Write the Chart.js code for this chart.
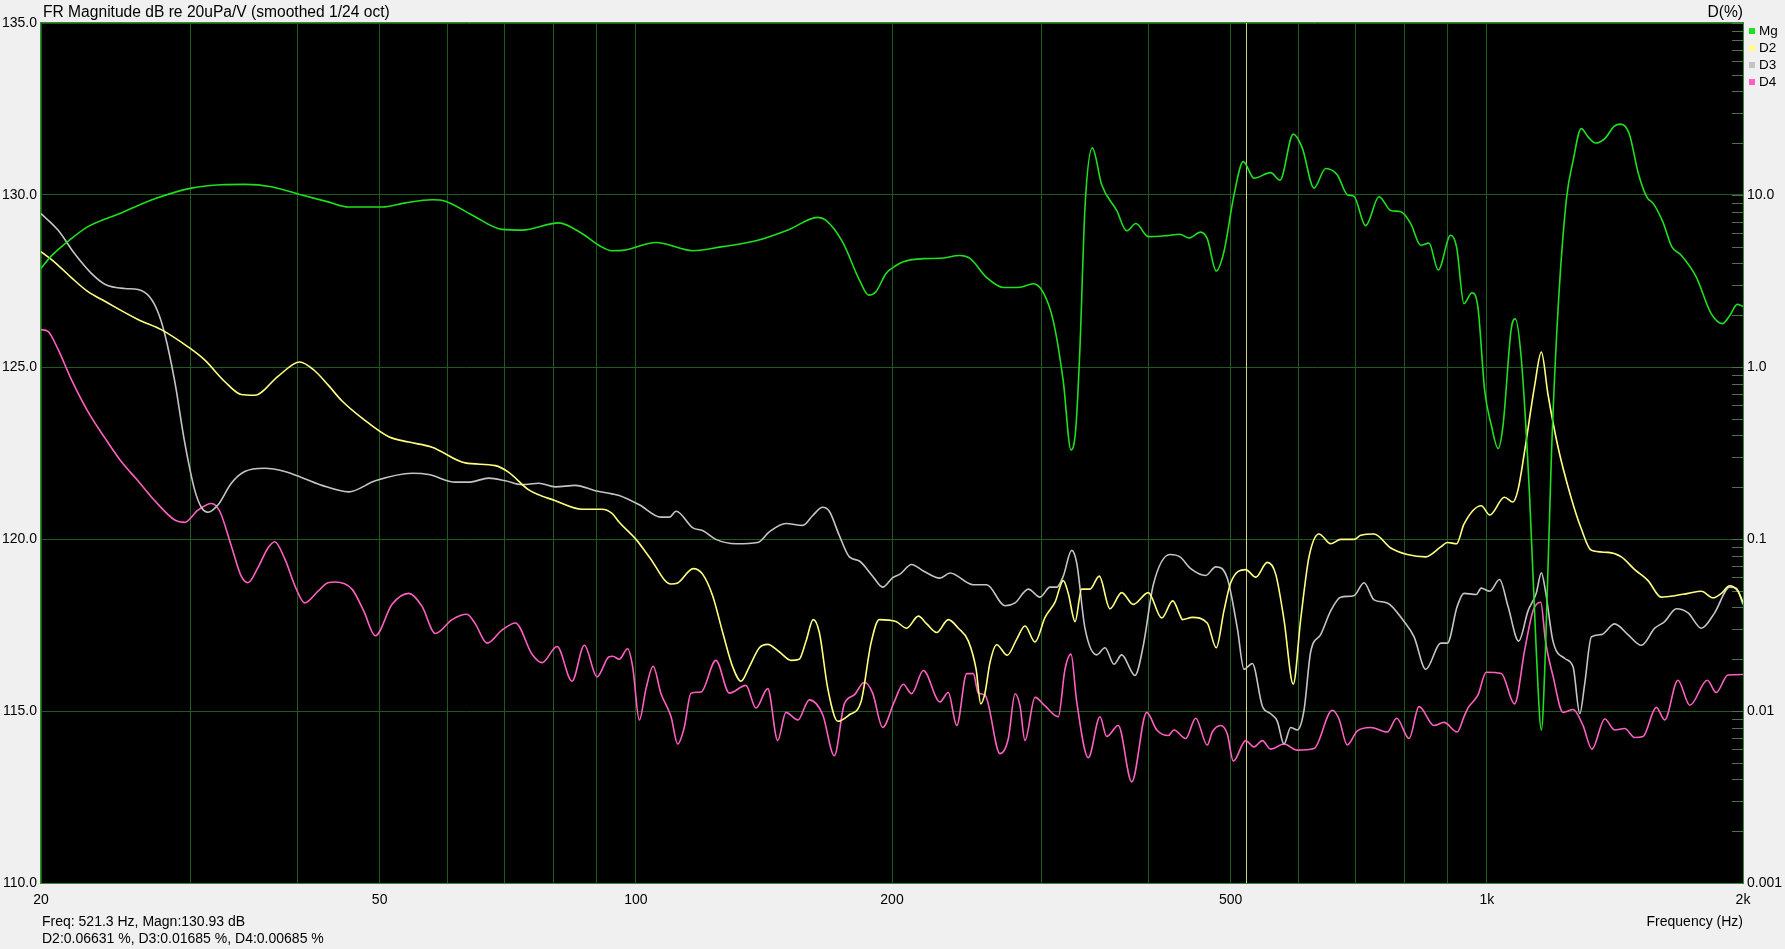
<!DOCTYPE html>
<html>
<head>
<meta charset="utf-8">
<title>FR Magnitude dB re 20uPa/V</title>
<script src="https://cdn.jsdelivr.net/npm/chart.js@4.4.1/dist/chart.umd.min.js"></script>
<style>
  html, body { margin: 0; padding: 0; background: #f0f0f0; }
  canvas { display: block; }
</style>
</head>
<body>
<canvas id="fr" width="1785" height="949"></canvas>
<script>
// Magnitude (dB)
const mgFreq = [20, 20.57, 21.71, 22.71, 24.85, 27.21, 30.04, 32.57, 34.70, 37.30,
  40.09, 43.48, 45.98, 50.32, 53.59, 57.62, 59.72, 64.19, 69.61, 73.49,
  81.16, 86.44, 90.43, 93.76, 96.50, 105.6, 116.7, 126.5, 138.4, 151.5,
  163.5, 167.2, 175.0, 183.1, 187.8, 191.5, 196.8, 202.2, 206.2, 217.7,
  227.7, 240.4, 247.0, 258.4, 270.3, 282.8, 293.1, 301.2, 309.4, 317.9,
  324.6, 328.8, 332.6, 337.1, 343.9, 352.7, 367.3, 377.4, 387.0, 400.1,
  420.5, 435.9, 446.7, 461.0, 469.3, 480.9, 491.0, 504.5, 517.3, 532.6,
  557.2, 571.4, 592.3, 606.9, 626.5, 646.6, 667.4, 685.5, 698.1, 720.5,
  747.0, 771.0, 792.2, 813.9, 836.2, 855.1, 876.8, 906.8, 921.6, 940.0,
  960.6, 976.4, 994.1, 1012, 1031, 1045, 1068, 1080, 1098, 1123,
  1143, 1159, 1172, 1191, 1212, 1240, 1263, 1291, 1315, 1342,
  1376, 1412, 1437, 1470, 1507, 1542, 1569, 1610, 1650, 1692,
  1762, 1835, 1892, 1930, 1969, 2000];
const mgDb = [127.87, 128.23, 128.73, 129.08, 129.48, 129.89, 130.20, 130.30, 130.31, 130.24,
  130.03, 129.80, 129.65, 129.65, 129.77, 129.86, 129.82, 129.42, 129.00, 128.98,
  129.19, 128.88, 128.54, 128.38, 128.39, 128.62, 128.38, 128.50, 128.67, 129.00,
  129.35, 129.27, 128.63, 127.53, 127.09, 127.19, 127.72, 127.95, 128.06, 128.15,
  128.16, 128.24, 128.16, 127.60, 127.31, 127.32, 127.42, 127.16, 126.34, 124.58,
  122.59, 123.19, 125.58, 129.61, 131.37, 130.30, 129.55, 128.96, 129.17, 128.79,
  128.82, 128.86, 128.75, 128.92, 128.73, 127.79, 128.35, 129.99, 130.97, 130.49,
  130.65, 130.43, 131.77, 131.37, 130.20, 130.77, 130.58, 130.01, 129.96, 129.11,
  129.95, 129.55, 129.51, 129.17, 128.54, 128.60, 127.82, 128.83, 128.48, 126.84,
  127.16, 126.72, 124.33, 123.32, 122.63, 123.32, 126.09, 126.40, 125.21, 121.18,
  116.78, 114.45, 116.78, 122.44, 126.59, 129.86, 131.00, 131.93, 131.69, 131.51,
  131.64, 132.00, 132.06, 131.78, 130.62, 129.94, 129.75, 129.22, 128.49, 128.25,
  127.62, 126.55, 126.26, 126.50, 126.82, 126.76];

// 2nd harmonic distortion (%)
const d2Freq = [20, 20.76, 21.71, 22.71, 23.77, 26.00, 27.69, 29.77, 31.14, 32.87,
  34.38, 35.65, 37.98, 40.27, 41.94, 43.48, 45.17, 47.68, 51.25, 54.10,
  57.62, 63.04, 68.39, 70.91, 74.85, 80.44, 86.44, 91.24, 93.76, 95.61,
  100.05, 103.7, 110.0, 112.0, 116.8, 119.8, 123.1, 126.5, 130.0, 132.9,
  135.9, 139.7, 142.9, 147.4, 152.2, 155.6, 158.5, 161.6, 164.3, 168.1,
  172.7, 178.2, 183.9, 188.95, 193.2, 202.2, 208.1, 214.8, 219.7, 225.7,
  232.9, 239.3, 245.9, 251.1, 254.3, 257.2, 260.7, 265.5, 273.2, 280.3,
  286.6, 294.5, 302.6, 310.9, 317.9, 322.3, 328.2, 334.1, 341.7, 350.4,
  360.7, 372.3, 384.2, 400.1, 414.9, 427.5, 435.9, 438.7, 450.8, 469.3,
  480.9, 491.0, 500.1, 520.8, 535.1, 552.1, 564.8, 577.6, 592.3, 604.3,
  618.1, 635.0, 655.4, 673.4, 698.1, 710.9, 736.9, 771.0, 806.5, 847.7,
  882.8, 898.7, 921.6, 940.0, 984.9, 1008, 1049, 1073, 1088, 1108,
  1138, 1159, 1180, 1212, 1257, 1291, 1327, 1388, 1439, 1492,
  1547, 1603, 1663, 1724, 1787, 1844, 1886, 1929, 1973, 2000];
const d2Pct = [4.68, 4.06, 3.31, 2.74, 2.41, 1.89, 1.65, 1.31, 1.10, 0.824,
  0.692, 0.685, 0.883, 1.07, 0.951, 0.787, 0.634, 0.504, 0.393, 0.366,
  0.342, 0.277, 0.267, 0.244, 0.193, 0.167, 0.149, 0.149, 0.141, 0.125,
  0.0995, 0.0787, 0.0547, 0.0555, 0.0673, 0.0625, 0.0468, 0.0286, 0.0180, 0.0149,
  0.0180, 0.0233, 0.0244, 0.0221, 0.0197, 0.0200, 0.0255, 0.0340, 0.0286, 0.0135,
  0.00871, 0.00951, 0.0113, 0.0248, 0.0340, 0.0331, 0.0303, 0.0356, 0.0321, 0.0286,
  0.0340, 0.0303, 0.0255, 0.0175, 0.0110, 0.0127, 0.0191, 0.0243, 0.0211, 0.0262,
  0.0312, 0.0252, 0.0350, 0.0429, 0.0573, 0.0481, 0.0331, 0.0511, 0.0511, 0.0608,
  0.0393, 0.0488, 0.0417, 0.0488, 0.0347, 0.0437, 0.0361, 0.0340, 0.0350, 0.0325,
  0.0233, 0.0382, 0.0557, 0.0664, 0.0600, 0.0731, 0.0625, 0.0340, 0.0143, 0.0340,
  0.0787, 0.107, 0.0938, 0.0995, 0.0995, 0.105, 0.107, 0.0887, 0.0813, 0.0787,
  0.0899, 0.0955, 0.0938, 0.122, 0.156, 0.138, 0.175, 0.164, 0.193, 0.327,
  0.776, 1.22, 0.692, 0.345, 0.172, 0.115, 0.0859, 0.0836, 0.0787, 0.0664,
  0.0573, 0.0459, 0.0468, 0.0483, 0.0497, 0.0455, 0.0483, 0.0535, 0.0497, 0.0429];

// 3rd harmonic distortion (%)
const d3Freq = [20, 20.94, 21.91, 22.92, 23.77, 25.09, 26.00, 26.84, 27.45, 27.95,
  28.72, 29.50, 30.31, 30.86, 31.42, 32.29, 33.47, 34.70, 36.63, 38.68,
  40.82, 42.78, 45.98, 49.42, 54.59, 57.11, 61.36, 63.63, 67.18, 70.26,
  73.49, 76.90, 80.44, 84.91, 89.61, 93.76, 95.61, 100.95, 107.0, 109.5,
  111.5, 116.7, 119.8, 124.2, 131.1, 139.1, 143.5, 150.1, 157.1, 161.4,
  165.8, 168.8, 173.4, 178.2, 183.1, 189.8, 195.0, 200.4, 204.4, 210.9,
  217.7, 227.7, 234.0, 249.2, 258.4, 271.5, 279.0, 289.2, 298.5, 306.7,
  312.3, 317.9, 325.2, 329.7, 337.1, 348.0, 355.9, 364.7, 372.3, 386.0,
  394.8, 405.6, 424.3, 435.9, 448.8, 467.4, 480.2, 495.5, 509.1, 518.4,
  530.2, 544.7, 557.2, 567.3, 577.6, 588.2, 598.8, 609.8, 620.9, 637.9,
  655.4, 673.4, 698.1, 717.3, 736.9, 763.9, 799.4, 821.3, 847.7, 882.8,
  898.7, 923.0, 940.0, 971.7, 984.9, 1008, 1035, 1059, 1090, 1118,
  1143, 1159, 1172, 1196, 1235, 1263, 1286, 1303, 1327, 1363,
  1413, 1465, 1519, 1575, 1618, 1670, 1724, 1787, 1852, 1929,
  1964, 2000];
const d3Pct = [7.80, 6.25, 4.55, 3.50, 3.03, 2.86, 2.82, 2.55, 2.08, 1.56,
  0.824, 0.366, 0.193, 0.153, 0.143, 0.158, 0.211, 0.247, 0.258, 0.247,
  0.224, 0.205, 0.188, 0.218, 0.241, 0.237, 0.214, 0.214, 0.226, 0.218,
  0.207, 0.211, 0.201, 0.205, 0.191, 0.183, 0.179, 0.158, 0.134, 0.134,
  0.145, 0.116, 0.112, 0.0995, 0.0938, 0.0955, 0.110, 0.123, 0.120, 0.137,
  0.153, 0.145, 0.105, 0.0787, 0.0745, 0.0608, 0.0525, 0.0597, 0.0625, 0.0711,
  0.0652, 0.0592, 0.0634, 0.0542, 0.0542, 0.0409, 0.0425, 0.0511, 0.0459, 0.0525,
  0.0525, 0.0608, 0.0859, 0.0724, 0.0303, 0.0212, 0.0233, 0.0187, 0.0212, 0.0161,
  0.0241, 0.0542, 0.0813, 0.0787, 0.0673, 0.0614, 0.0689, 0.0592, 0.0303, 0.0175,
  0.0189, 0.0107, 0.00964, 0.00871, 0.00643, 0.00802, 0.00776, 0.0101, 0.0221, 0.0278,
  0.0382, 0.0459, 0.0468, 0.0557, 0.0443, 0.0425, 0.0331, 0.0270, 0.0175, 0.0248,
  0.0248, 0.0406, 0.0483, 0.0476, 0.0518, 0.0497, 0.0581, 0.0406, 0.0255, 0.0382,
  0.0483, 0.0637, 0.0497, 0.0255, 0.0202, 0.0180, 0.00964, 0.0143, 0.0270, 0.0278,
  0.0321, 0.0278, 0.0241, 0.0303, 0.0331, 0.0393, 0.0372, 0.0303, 0.0372, 0.0525,
  0.0518, 0.0417];

// 4th harmonic distortion (%)
const d4Freq = [20, 20.38, 20.94, 21.71, 22.71, 23.77, 24.85, 26.00, 27.21, 28.72,
  29.50, 30.58, 31.71, 32.44, 33.47, 34.38, 35.01, 35.97, 36.96, 37.64,
  38.68, 39.91, 40.82, 42.32, 43.48, 44.34, 46.39, 47.89, 49.42, 51.71,
  54.10, 56.08, 58.14, 60.82, 63.33, 64.77, 66.87, 69.61, 72.19, 75.52,
  77.59, 80.81, 84.15, 87.00, 90.03, 92.92, 93.93, 95.61, 97.81, 99.16,
  100.95, 102.8, 104.8, 107.0, 110.0, 112.0, 114.0, 116.1, 119.3, 124.2,
  128.8, 134.7, 138.4, 142.9, 146.8, 150.1, 155.0, 159.9, 165.8, 171.1,
  175.8, 180.6, 185.6, 189.8, 195.0, 201.2, 206.2, 210.9, 217.7, 227.7,
  232.9, 238.3, 244.8, 249.2, 252.6, 257.2, 267.9, 274.0, 279.0, 282.8,
  286.6, 294.5, 302.6, 313.6, 319.4, 324.6, 329.7, 340.2, 351.1, 357.5,
  368.9, 382.6, 398.4, 409.4, 422.4, 429.0, 442.8, 454.9, 469.3, 475.8,
  486.7, 495.5, 503.6, 520.8, 532.6, 544.7, 557.2, 577.6, 598.8, 626.5,
  658.3, 670.3, 685.5, 704.4, 730.4, 763.9, 783.7, 810.2, 832.4, 866.9,
  890.7, 923.0, 940.0, 950.1, 976.4, 998.3, 1040, 1078, 1108, 1133,
  1157, 1172, 1196, 1229, 1263, 1297, 1329, 1376, 1413, 1452,
  1492, 1526, 1582, 1618, 1677, 1732, 1816, 1860, 1920, 2000];
const d4Pct = [1.65, 1.61, 1.27, 0.847, 0.550, 0.387, 0.282, 0.218, 0.167, 0.129,
  0.125, 0.147, 0.161, 0.145, 0.0912, 0.0608, 0.0557, 0.0682, 0.0887, 0.0964,
  0.0766, 0.0511, 0.0425, 0.0497, 0.0557, 0.0562, 0.0511, 0.0382, 0.0274, 0.0417,
  0.0483, 0.0406, 0.0282, 0.0340, 0.0365, 0.0321, 0.0248, 0.0295, 0.0325, 0.0214,
  0.0191, 0.0237, 0.0149, 0.0241, 0.0158, 0.0206, 0.0208, 0.0200, 0.0230, 0.0180,
  0.00887, 0.0135, 0.0182, 0.0127, 0.00925, 0.00643, 0.00802, 0.0127, 0.0129, 0.0197,
  0.0127, 0.0141, 0.0104, 0.0135, 0.00673, 0.00982, 0.00887, 0.0116, 0.00951, 0.00550,
  0.0110, 0.0124, 0.0147, 0.0127, 0.00802, 0.0113, 0.0143, 0.0126, 0.0172, 0.0113,
  0.0128, 0.00824, 0.0165, 0.0165, 0.0127, 0.0124, 0.00565, 0.00692, 0.0126, 0.0107,
  0.00673, 0.0120, 0.0107, 0.00925, 0.0175, 0.0214, 0.0113, 0.00535, 0.00925, 0.00711,
  0.00824, 0.00387, 0.00982, 0.00776, 0.00721, 0.00776, 0.00692, 0.00908, 0.00634, 0.00755,
  0.00824, 0.00735, 0.00511, 0.00673, 0.00617, 0.00673, 0.00600, 0.00643, 0.00592, 0.00605,
  0.0101, 0.00899, 0.00634, 0.00766, 0.00802, 0.00755, 0.00908, 0.00692, 0.0106, 0.00824,
  0.00859, 0.00755, 0.00925, 0.0104, 0.0124, 0.0168, 0.0165, 0.0110, 0.0227, 0.0382,
  0.0429, 0.0255, 0.0160, 0.00982, 0.0102, 0.00824, 0.00600, 0.00899, 0.00776, 0.00791,
  0.00701, 0.00711, 0.0105, 0.00887, 0.0151, 0.0108, 0.0151, 0.0128, 0.0162, 0.0163];

// axes
const xGridFreqs = [20, 30, 40, 50, 60, 70, 80, 90, 100, 200, 300, 400, 500, 600, 700, 800, 900, 1000, 2000];
const xTickLabels = { 20: '20', 50: '50', 100: '100', 200: '200', 500: '500', 1000: '1k', 2000: '2k' };
const dDecades = [0.001, 0.01, 0.1, 1, 10];
const dTickLabels = { 10: '10.0', 1: '1.0', 0.1: '0.1', 0.01: '0.01', 0.001: '0.001' };

const seriesNames = ['Mg', 'D2', 'D3', 'D4'];
const seriesColors = ['#1fe01f', '#ffff80', '#c4c4c4', '#ff5fc0'];

const titleText = 'FR Magnitude dB re 20uPa/V (smoothed 1/24 oct)';
const rightAxisTitle = 'D(%)';
const xAxisTitle = 'Frequency (Hz)';
const cursorFreq = 521.3;
const readoutLine1 = 'Freq: 521.3 Hz, Magn:130.93 dB';
const readoutLine2 = 'D2:0.06631 %, D3:0.01685 %, D4:0.00685 %';

const FONT = '"Liberation Sans", Arial, sans-serif';
const gridColor = '#1f5a1f';
const frameColor = '#2f8f2f';

const toPoints = (xs, ys) => xs.map((x, i) => ({ x: x, y: ys[i] }));

const rewFrame = {
  id: 'rewFrame',
  beforeDraw(chart) {
    const { ctx, chartArea: a } = chart;
    ctx.save();
    ctx.fillStyle = '#000';
    ctx.fillRect(a.left, a.top, a.right - a.left, a.bottom - a.top);
    ctx.restore();
  },
  beforeDatasetsDraw(chart) {
    const { ctx, chartArea: a, scales } = chart;
    ctx.save();
    // small ticks of the D(%) axis sit inside the plot
    ctx.strokeStyle = '#4f6f4f';
    ctx.lineWidth = 1;
    scales.yD.ticks.forEach(t => {
      const y = Math.round(scales.yD.getPixelForValue(t.value)) + 0.5;
      ctx.beginPath();
      ctx.moveTo(a.right - 11, y);
      ctx.lineTo(a.right, y);
      ctx.stroke();
    });
    // cursor line
    const cx = Math.round(scales.x.getPixelForValue(cursorFreq)) + 0.5;
    ctx.strokeStyle = '#d2cf84';
    ctx.beginPath();
    ctx.moveTo(cx, a.top);
    ctx.lineTo(cx, a.bottom);
    ctx.stroke();
    ctx.restore();
  },
  afterDraw(chart) {
    const { ctx, chartArea: a } = chart;
    ctx.save();
    ctx.strokeStyle = frameColor;
    ctx.lineWidth = 1;
    ctx.strokeRect(a.left - 0.5, a.top - 0.5, a.right - a.left + 1, a.bottom - a.top + 1);

    ctx.fillStyle = '#000';
    ctx.textBaseline = 'alphabetic';
    ctx.font = '15.6px ' + FONT;
    ctx.textAlign = 'left';
    ctx.fillText(titleText, 43, 16.5);
    ctx.textAlign = 'right';
    ctx.fillText(rightAxisTitle, a.right, 16.5);

    ctx.font = '14px ' + FONT;
    ctx.textAlign = 'left';
    ctx.fillText(readoutLine1, 42, 926);
    ctx.fillText(readoutLine2, 42, 943);
    ctx.textAlign = 'right';
    ctx.fillText(xAxisTitle, a.right, 926);

    // legend
    ctx.font = '13.5px ' + FONT;
    ctx.textAlign = 'left';
    seriesNames.forEach((name, i) => {
      const base = 35 + i * 17;
      ctx.fillStyle = seriesColors[i];
      ctx.fillRect(a.right + 6, base - 7, 6, 6);
      ctx.fillStyle = '#000';
      ctx.fillText(name, a.right + 16, base);
    });
    ctx.restore();
  }
};

const lineStyle = (i) => ({
  label: seriesNames[i],
  borderColor: seriesColors[i],
  backgroundColor: seriesColors[i],
  borderWidth: 1.6,
  pointRadius: 0,
  fill: false,
  cubicInterpolationMode: 'monotone'
});

new Chart(document.getElementById('fr'), {
  type: 'line',
  data: {
    datasets: [
      Object.assign(lineStyle(0), { data: toPoints(mgFreq, mgDb), yAxisID: 'y' }),
      Object.assign(lineStyle(1), { data: toPoints(d2Freq, d2Pct), yAxisID: 'yD' }),
      Object.assign(lineStyle(2), { data: toPoints(d3Freq, d3Pct), yAxisID: 'yD' }),
      Object.assign(lineStyle(3), { data: toPoints(d4Freq, d4Pct), yAxisID: 'yD' })
    ]
  },
  options: {
    responsive: false,
    animation: false,
    devicePixelRatio: 1,
    layout: { padding: { top: 23, left: 0, right: 0, bottom: 0 } },
    plugins: { legend: { display: false }, tooltip: { enabled: false }, title: { display: false } },
    scales: {
      x: {
        type: 'logarithmic',
        min: 20,
        max: 2000,
        afterBuildTicks: (s) => { s.ticks = xGridFreqs.map(v => ({ value: v })); },
        afterFit: (s) => { s.height = 66; },
        grid: { color: gridColor, lineWidth: 1, drawTicks: false },
        border: { display: false },
        ticks: {
          autoSkip: false,
          maxRotation: 0,
          padding: 9,
          color: '#000',
          font: { family: FONT, size: 14 },
          callback: (v) => xTickLabels[v] || ''
        }
      },
      y: {
        type: 'linear',
        position: 'left',
        min: 110,
        max: 135,
        afterFit: (s) => { s.width = 41; },
        grid: { color: gridColor, lineWidth: 1, drawTicks: false },
        border: { display: false },
        ticks: {
          stepSize: 5,
          padding: 4,
          color: '#000',
          font: { family: FONT, size: 14 },
          callback: (v) => v.toFixed(1)
        }
      },
      yD: {
        type: 'logarithmic',
        position: 'right',
        min: 0.001,
        max: 100,
        afterBuildTicks: (s) => {
          const t = [];
          dDecades.forEach(d => { for (let m = 1; m < 10; m++) t.push({ value: d * m }); });
          t.push({ value: 100 });
          s.ticks = t;
        },
        afterFit: (s) => { s.width = 42; },
        grid: { display: false, drawTicks: false },
        border: { display: false },
        ticks: {
          autoSkip: false,
          padding: 4,
          color: '#000',
          font: { family: FONT, size: 14 },
          callback: (v) => dTickLabels[v] || ''
        }
      }
    }
  },
  plugins: [rewFrame]
});
</script>
</body>
</html>
